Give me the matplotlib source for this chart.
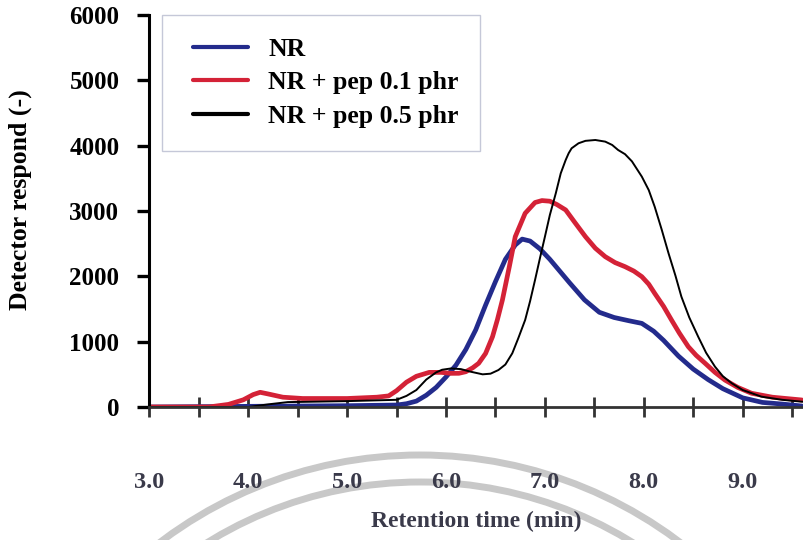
import numpy as np
import matplotlib
matplotlib.use("Agg")
import matplotlib.pyplot as plt
from matplotlib.patches import Ellipse, Rectangle
from matplotlib.ticker import MultipleLocator

plt.rcParams['font.family'] = ['Liberation Serif', 'DejaVu Serif']

# GPC traces
t_nr = [3.0, 4.0, 5.0, 5.5, 5.6, 5.7, 5.8, 5.9, 6.0, 6.1, 6.2, 6.3, 6.4, 6.5,
        6.6, 6.7, 6.77, 6.85, 6.95, 7.05, 7.15, 7.25, 7.4, 7.55, 7.7, 7.85,
        7.98, 8.1, 8.2, 8.35, 8.5, 8.65, 8.8, 9.0, 9.2, 9.4, 9.6]
v_nr = [0, 10, 20, 30, 50, 90, 180, 300, 460, 640, 880, 1180, 1560, 1920,
        2260, 2480, 2570, 2540, 2420, 2260, 2080, 1900, 1640, 1450, 1370, 1320,
        1280, 1160, 1020, 780, 580, 420, 280, 140, 70, 45, 15]

t_p01 = [3.0, 3.6, 3.8, 3.95, 4.05, 4.12, 4.2, 4.35, 4.55, 5.0, 5.3, 5.42,
         5.5, 5.6, 5.7, 5.83, 5.95, 6.05, 6.13, 6.2, 6.27, 6.33, 6.4, 6.47,
         6.52, 6.57, 6.64, 6.7, 6.8, 6.9, 6.97, 7.05, 7.12, 7.21, 7.3, 7.41,
         7.51, 7.61, 7.71, 7.81, 7.9, 7.98, 8.05, 8.11, 8.2, 8.28, 8.36, 8.45,
         8.53, 8.62, 8.72, 8.82, 8.95, 9.09, 9.3, 9.6]
v_p01 = [0, 0, 40, 110, 190, 225, 200, 150, 130, 130, 150, 170, 250, 380,
         470, 530, 530, 515, 516, 540, 600, 669, 820, 1076, 1340, 1638, 2148,
         2607, 2965, 3130, 3160, 3150, 3100, 3016, 2830, 2607, 2430, 2301,
         2210, 2148, 2080, 1995, 1880, 1740, 1540, 1332, 1130, 923, 790, 669,
         530, 413, 300, 210, 150, 107]

t_p05 = [3.0, 4.0, 4.2, 4.4, 5.0, 5.5, 5.6, 5.7, 5.8, 5.9, 5.96, 6.05, 6.15,
         6.25, 6.37, 6.45, 6.53, 6.6, 6.67, 6.73, 6.8, 6.85, 6.9, 6.95, 7.0,
         7.05, 7.11, 7.16, 7.21, 7.24, 7.27, 7.34, 7.41, 7.51, 7.61, 7.68,
         7.74, 7.81, 7.88, 7.98, 8.05, 8.11, 8.18, 8.25, 8.32, 8.38, 8.46,
         8.55, 8.63, 8.72, 8.8, 8.89, 9.0, 9.19, 9.4, 9.6]
v_p05 = [0, 0, 40, 75, 90, 110, 170, 260, 420, 530, 570, 590, 580, 540, 500,
         510, 566, 650, 822, 1050, 1332, 1620, 1944, 2280, 2607, 2940, 3272,
         3577, 3781, 3884, 3960, 4037, 4074, 4087, 4062, 4011, 3934, 3870,
         3760, 3526, 3320, 3066, 2720, 2353, 2010, 1689, 1370, 1076, 830, 617,
         470, 363, 260, 158, 110, 81]

labels = ["NR", "NR + pep 0.1 phr", "NR + pep 0.5 phr"]
x_ticks = [3.0, 4.0, 5.0, 6.0, 7.0, 8.0, 9.0]

fig = plt.figure(figsize=(8.04, 5.4), dpi=100)
ax = fig.add_axes([0.1858, 0.2463, 0.8142, 0.7259])
ax.set_facecolor('none')

# faint watermark rings behind the lower part
for r in (431, 404):
    fig.add_artist(Ellipse((420 / 804, 1 - 886 / 540), 2 * r / 804, 2 * r / 540,
                           transform=fig.transFigure, fill=False,
                           edgecolor='#c8c8c8', linewidth=5.0, zorder=-5))

ax.plot(t_nr, v_nr, color='#232b8c', lw=3.4, label=labels[0], solid_capstyle='round')
ax.plot(t_p01, v_p01, color='#d42237', lw=3.4, label=labels[1], solid_capstyle='round')
ax.plot(t_p05, v_p05, color='black', lw=1.4, label=labels[2])

ax.set_xlim(3.0, 9.62)
ax.set_ylim(0, 6000)
ax.spines['top'].set_visible(False)
ax.spines['right'].set_visible(False)
ax.spines['left'].set_linewidth(2.2)
ax.spines['bottom'].set_linewidth(2.0)
ax.spines['bottom'].set_color('#333333')

ax.set_yticks(range(0, 6001, 1000))
ax.tick_params(axis='y', direction='out', length=8.6, width=2.4, pad=13,
               labelsize=18)
for tl in ax.get_yticklabels():
    tl.set_fontweight('bold')

ax.set_xticks(x_ticks)
ax.set_xticklabels([f"{v:.1f}" for v in x_ticks])
ax.xaxis.set_minor_locator(MultipleLocator(0.5))
ax.tick_params(axis='x', which='both', direction='inout', length=15, width=2.0,
               color='#333333', pad=39, labelsize=17.5, labelcolor='#3a3a4a')
for tl in ax.get_xticklabels():
    tl.set_fontweight('bold')

ax.set_xlabel("Retention time (min)", fontsize=17, fontweight='bold',
              color='#3a3a4a')
ax.xaxis.set_label_coords(0.499, -0.266)
ax.set_ylabel("Detector respond (-)", fontsize=18.5, fontweight='bold')
ax.yaxis.set_label_coords(-0.179, 0.528)

# legend box drawn separately so its padding matches the original
ax.add_patch(Rectangle((0.0193, 0.653), 0.4857, 0.347, transform=ax.transAxes,
                       fill=False, edgecolor='#c5c8d8', lw=1.0, clip_on=False))
leg = ax.legend(loc='upper left', bbox_to_anchor=(0.0666, 0.9425), frameon=False,
                prop={'weight': 'bold', 'size': 18.5}, handlelength=2.14,
                handletextpad=0.78, labelspacing=0.42, borderpad=0,
                borderaxespad=0)
# all three legend handles are drawn equally thick in the original
for ln in leg.get_lines():
    ln.set_linewidth(3.0)
    ln.set_solid_capstyle('round')

fig.savefig("out.png", dpi=100)
